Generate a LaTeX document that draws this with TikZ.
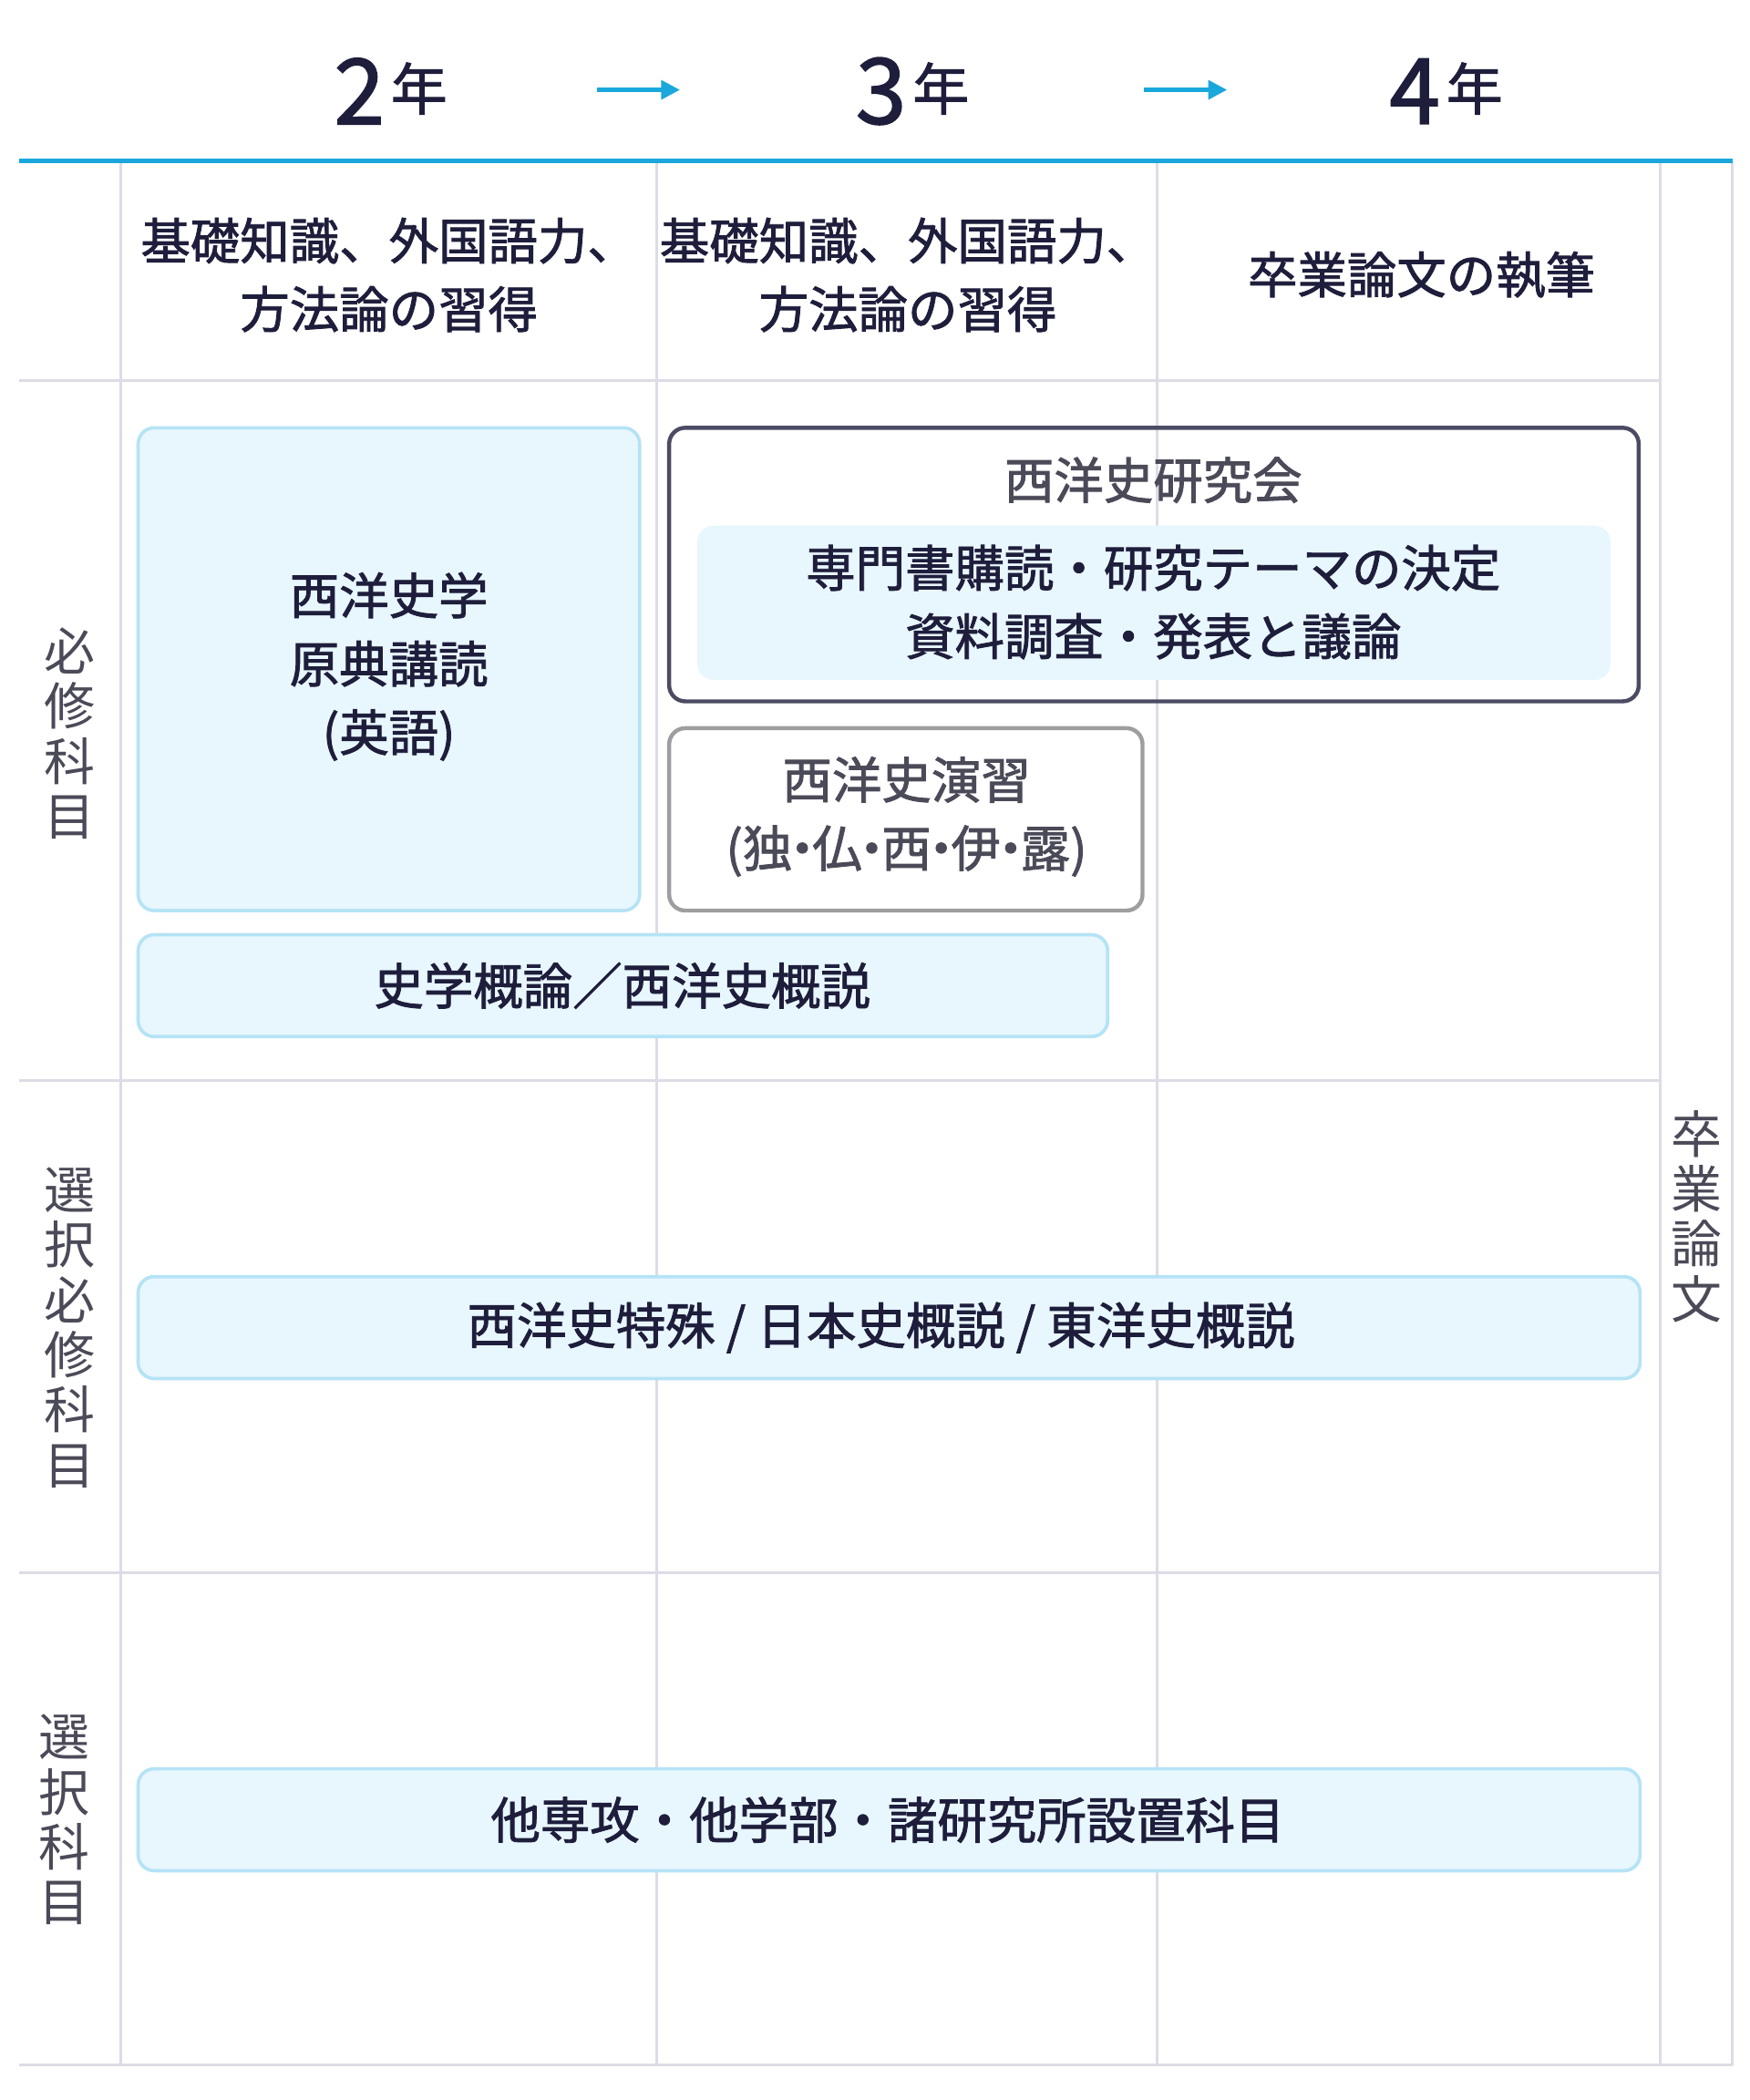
\documentclass[tikz,border=0pt]{standalone}
\usepackage{fontspec}
\usetikzlibrary{arrows.meta}
\newfontfamily\jp[FakeBold=1.6]{Noto Sans CJK JP}
\newfontfamily\jpl{Noto Sans CJK JP}
\definecolor{ink}{HTML}{1E1E3C}
\definecolor{grid}{HTML}{DCDCE6}
\definecolor{cyanl}{HTML}{1AA7DC}
\definecolor{lbfill}{HTML}{E8F6FD}
\definecolor{lbdraw}{HTML}{B5E3F6}
\definecolor{gtxt}{HTML}{4A4A58}
\begin{document}
\begin{tikzpicture}[x=1pt,y=-1pt,
  gl/.style={grid,line width=2pt},
  lbox/.style={draw=lbdraw,fill=lbfill,line width=2.5pt,rounded corners=12pt},
  txt/.style={font=\jp\fontsize{37}{51}\selectfont,text=ink,align=center},
  vtxt/.style={font=\jpl\fontsize{38}{41}\selectfont,text=gtxt,align=center},
  yr/.style={font=\jp\fontsize{68}{68}\selectfont,text=ink},
  nen/.style={font=\jp\fontsize{42}{42}\selectfont,text=ink}]
\useasboundingbox (0,0) rectangle (1305,1566);
% grid
\draw[gl] (90,120) -- (90,1540);
\draw[gl] (490,120) -- (490,1540);
\draw[gl] (863,120) -- (863,1540);
\draw[gl] (1238,120) -- (1238,1540);
\draw[gl] (1292,120) -- (1292,1540);
\draw[gl] (14,284) -- (1238,284);
\draw[gl] (14,806) -- (1238,806);
\draw[gl] (14,1173) -- (1238,1173);
\draw[gl] (14,1540) -- (1292,1540);
\draw[cyanl,line width=3pt] (14,120) -- (1292,120);
% header
\node[yr] (y2) at (268,68) {2};
\node[nen,anchor=west,inner sep=1pt] (n2) at ([yshift=2pt]y2.east) {年};
\node[yr] (y3) at (657,68) {3};
\node[nen,anchor=west,inner sep=1pt] (n3) at ([yshift=2pt]y3.east) {年};
\node[yr] (y4) at (1055,68) {4};
\node[nen,anchor=west,inner sep=1pt] (n4) at ([yshift=2pt]y4.east) {年};
\coordinate (a1s) at (445,67); \coordinate (a1e) at (507,67);
\coordinate (a2s) at (853,67); \coordinate (a2e) at (915,67);
\draw[cyanl,line width=3pt,-{Triangle[length=14pt,width=14pt]}] (a1s) -- (a1e);
\draw[cyanl,line width=3pt,-{Triangle[length=14pt,width=14pt]}] (a2s) -- (a2e);
\node[txt] (h2) at (290,205) {基礎知識、外国語力、\\方法論の習得};
\node[txt] (h3) at (677,205) {基礎知識、外国語力、\\方法論の習得};
\node[txt] (h4) at (1060,205) {卒業論文の執筆};
% row labels
\node[vtxt] (r1) at (52,547) {必\\修\\科\\目};
\node[vtxt] (r2) at (52,990) {選\\択\\必\\修\\科\\目};
\node[vtxt] (r3) at (48,1357) {選\\択\\科\\目};
\node[vtxt] (r4) at (1265,907) {卒\\業\\論\\文};
% boxes
\draw[lbox] (103,319) rectangle (477,679);
\node[txt] (b1) at (290,497) {西洋史学\\原典講読\\(英語)};
\draw[draw=ink!80,line width=3pt,rounded corners=12pt] (499,319) rectangle (1222,523);
\node[txt,text=gtxt] (b2t) at (860,358) {西洋史研究会};
\fill[lbfill,rounded corners=12pt] (520,392) rectangle (1201,507);
\node[txt] (b2) at (860,449) {専門書購読・研究テーマの決定\\資料調査・発表と議論};
\draw[draw=black!38,line width=3pt,rounded corners=12pt] (499,543) rectangle (852,679);
\node[txt,text=gtxt] (b3) at (676,609) {西洋史演習\\(独\kern-0.3em・\kern-0.3em 仏\kern-0.3em・\kern-0.3em 西\kern-0.3em・\kern-0.3em 伊\kern-0.3em・\kern-0.3em 露)};
\draw[lbox] (103,697) rectangle (826,773);
\node[txt] (b4) at (464,735) {史学概論／西洋史概説};
\draw[lbox] (103,952) rectangle (1223,1028);
\node[txt] (b5) at (657,990) {西洋史特殊 / 日本史概説 / 東洋史概説};
\draw[lbox] (103,1319) rectangle (1223,1395);
\node[txt] (b6) at (662,1357) {他専攻・他学部・諸研究所設置科目};
\end{tikzpicture}
\end{document}
